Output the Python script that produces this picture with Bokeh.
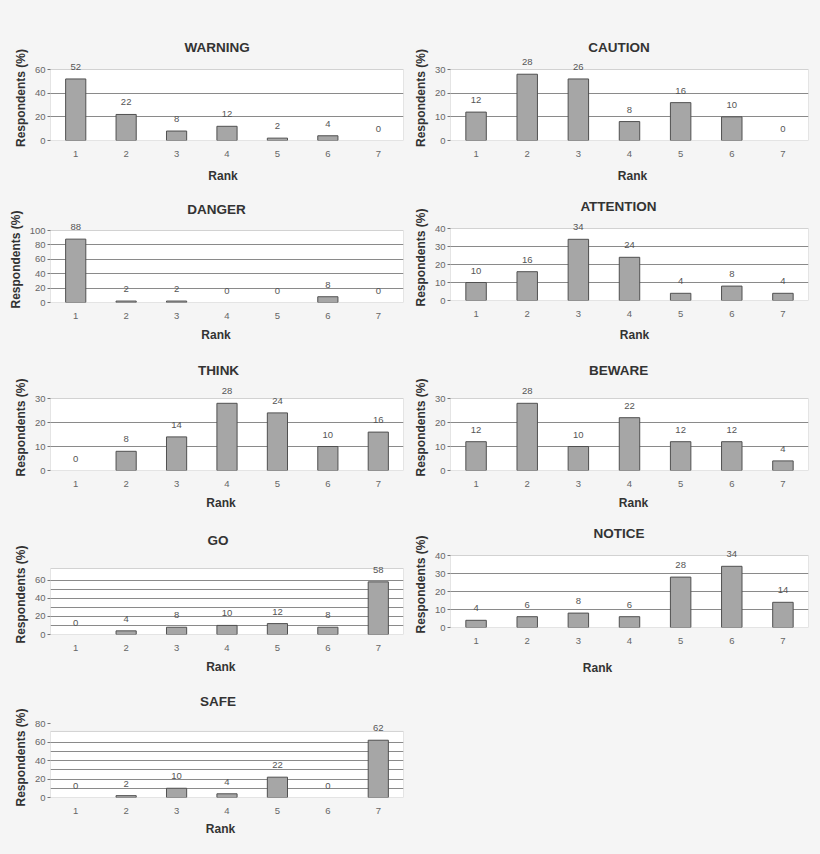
from bokeh.plotting import figure
from bokeh.layouts import column, row
from bokeh.models import (ColumnDataSource, FixedTicker, Label, Range1d,
                          Title, BoxAnnotation)
from bokeh.embed import file_html
from bokeh.resources import INLINE

# ranks on the x axis
ranks = [1, 2, 3, 4, 5, 6, 7]

# percentage of respondents per rank, one list per signal word
warning = [52, 22, 8, 12, 2, 4, 0]
caution = [12, 28, 26, 8, 16, 10, 0]
danger = [88, 2, 2, 0, 0, 8, 0]
attention = [10, 16, 34, 24, 4, 8, 4]
think = [0, 8, 14, 28, 24, 10, 16]
beware = [12, 28, 10, 22, 12, 12, 4]
go = [0, 4, 8, 10, 12, 8, 58]
notice = [4, 6, 8, 6, 28, 34, 14]
safe = [0, 2, 10, 4, 22, 0, 62]

FONT = "Liberation Sans"
BG = "#f5f5f5"
BORDER = "#767676"
GRID = "#8a8a8a"
BAR_FILL = "#a6a6a6"
BAR_LINE = "#505050"
EXT = 14  # px of free frame above the plot box, so value labels are not clipped

# Arial bold advance widths (1/1000 em), used to place the titles
BOLD_W = {"A": 722, "B": 722, "C": 722, "D": 722, "E": 667, "G": 778,
          "H": 722, "I": 278, "K": 722, "N": 722, "O": 778, "R": 722,
          "S": 667, "F": 611, "T": 611, "U": 722, "W": 944,
          "a": 556, "n": 611, "k": 556}


def bold_width(text, size):
    return sum(BOLD_W.get(ch, 667) for ch in text) * size / 1000.0


def panel(name, values, box, frame, box_top, yticks, ygrid, title_gap,
          rank_cx, rank_gap):
    x0, y0, w, h = box
    fl, ft, fr, fb = frame
    yend = box_top + EXT * box_top / (fb - ft)
    p = figure(width=w, height=h, output_backend="svg", toolbar_location=None,
               x_range=Range1d(0.5, 7.5), y_range=Range1d(0, yend),
               min_border_left=fl - x0, min_border_right=x0 + w - fr,
               min_border_top=round(ft - EXT - y0),
               min_border_bottom=round(y0 + h - fb),
               background_fill_color=BG, border_fill_color=BG)
    p.outline_line_color = None
    # white plot box with its border, drawn under the grid
    p.add_layout(BoxAnnotation(left=0.5, right=7.5, bottom=0, top=box_top,
                               fill_color="white", fill_alpha=1,
                               line_color=BORDER, line_width=1,
                               level="image"))

    p.xgrid.grid_line_color = None
    p.ygrid.ticker = FixedTicker(ticks=ygrid)
    p.ygrid.grid_line_color = GRID

    # empty bars leave no outline on the base line
    outline = [BAR_LINE if v > 0 else None for v in values]
    src = ColumnDataSource(dict(x=ranks, top=values, outline=outline))
    p.vbar(x="x", top="top", width=0.4, bottom=0, source=src,
           fill_color=BAR_FILL, line_color="outline", line_width=1)
    for r, v in zip(ranks, values):
        p.add_layout(Label(x=r, y=v, text=str(v), y_offset=12,
                           text_align="center", text_baseline="middle",
                           text_font=FONT, text_font_size="9.5px",
                           text_color="#555555"))

    xa = p.xaxis[0]
    xa.ticker = FixedTicker(ticks=ranks)
    xa.major_tick_out = 0
    xa.major_tick_in = 0
    xa.minor_tick_line_color = None
    xa.axis_line_color = None
    xa.major_label_standoff = 10
    xa.major_label_text_font = FONT
    xa.major_label_text_font_size = "9.5px"
    xa.major_label_text_color = "#666666"

    ya = p.yaxis[0]
    ya.ticker = FixedTicker(ticks=yticks)
    ya.major_tick_out = 3
    ya.major_tick_in = 0
    ya.major_tick_line_color = BORDER
    ya.minor_tick_line_color = None
    ya.axis_line_color = None
    ya.major_label_standoff = 2
    ya.major_label_text_font = FONT
    ya.major_label_text_font_size = "9.5px"
    ya.major_label_text_color = "#666666"
    ya.axis_label = "Respondents (%)"
    ya.axis_label_text_font = FONT
    ya.axis_label_text_font_size = "12px"
    ya.axis_label_text_font_style = "bold"
    ya.axis_label_text_color = "#333333"
    ya.axis_label_standoff = 4

    tsize = 13.5
    title_cx = (fl + fr) / 2 - 11.5
    p.add_layout(Title(text=name, align="left",
                       offset=title_cx - fl - bold_width(name, tsize) / 2,
                       standoff=max(0, 2 * (title_gap - EXT - 7.7)),
                       text_font=FONT, text_font_size="13.5px",
                       text_font_style="bold", text_color="#333333"), "above")

    p.add_layout(Title(text="Rank", align="left", vertical_align="top",
                       offset=rank_cx - fl - bold_width("Rank", 12) / 2,
                       standoff=max(0, 2 * (rank_gap - 24.8)), text_font=FONT,
                       text_font_size="12px", text_font_style="bold",
                       text_color="#333333"), "below")
    return p


W = 410
t10 = [0, 10, 20, 30]
t10_40 = [0, 10, 20, 30, 40]
g10_60 = [10, 20, 30, 40, 50, 60]

# left column
p1 = panel("WARNING", warning, (0, 0, W, 197), (46, 69, 403, 140), 60,
           [0, 20, 40, 60], [20, 40], 22.3, 218.5, 34.7)
p3 = panel("DANGER", danger, (0, 197, W, 155), (50, 230, 405, 302), 100,
           [0, 20, 40, 60, 80, 100], [20, 40, 60, 80], 21.3, 215.5, 31)
p5 = panel("THINK", think, (0, 352, W, 168), (50, 398, 409, 470), 30,
           t10, [10, 20], 28.3, 220.5, 31)
p7 = panel("GO", go, (0, 520, W, 163), (48, 568, 406, 634), 72.7,
           [0, 20, 40, 60], g10_60, 28.2, 218.3, 31.7)
p9 = panel("SAFE", safe, (0, 683, W, 171), (48, 730.7, 406, 797), 71.5,
           [0, 20, 40, 60, 80], g10_60, 30.2, 218, 30.7)

# right column
p2 = panel("CAUTION", caution, (410, 0, W, 195), (448, 69, 808, 140), 30,
           t10, [10, 20], 22, 630, 34)
p4 = panel("ATTENTION", attention, (410, 195, W, 158), (448, 228, 808, 300),
           40, t10_40, [10, 20, 30], 22.3, 632, 33.3)
p6 = panel("BEWARE", beware, (410, 353, W, 167), (448, 398, 808, 470), 30,
           t10, [10, 20], 28.3, 631, 31.7)
p8 = panel("NOTICE", notice, (410, 520, W, 334), (448, 555, 808, 627), 40,
           t10_40, [10, 20, 30], 22.7, 595, 39)

layout = row(column(p1, p3, p5, p7, p9), column(p2, p4, p6, p8),
             styles={"background-color": BG})

open("out.html", "w").write(file_html(layout, INLINE))
